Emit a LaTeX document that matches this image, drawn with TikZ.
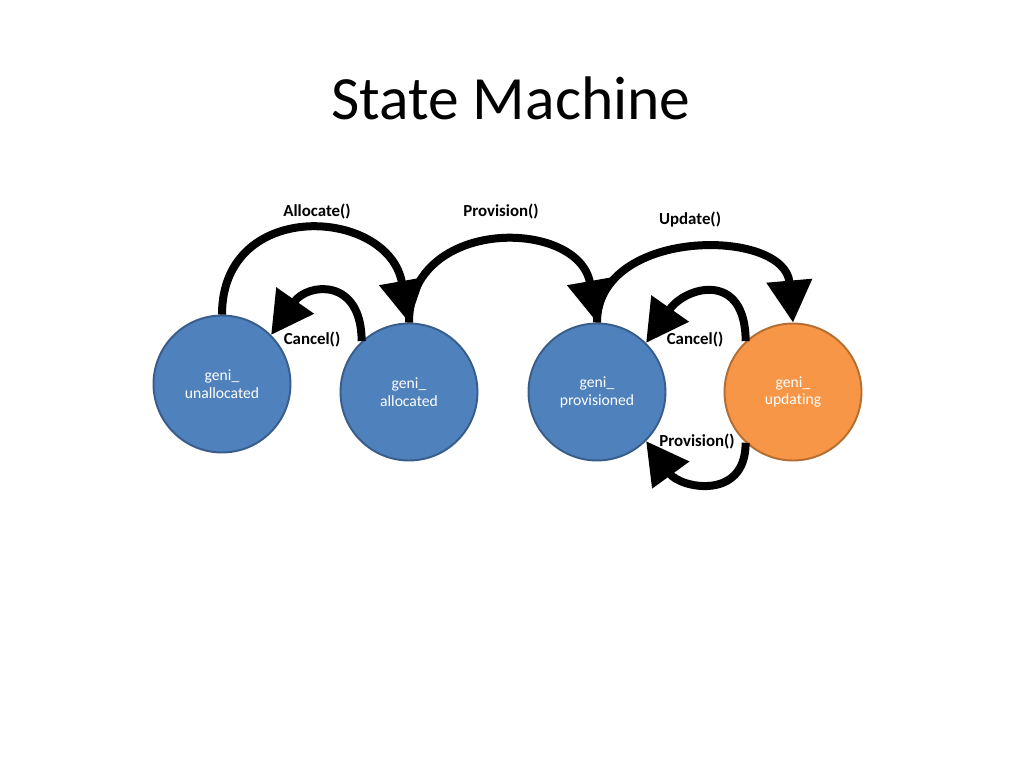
\documentclass[tikz,border=0pt]{standalone}
\usepackage{fontspec}
\setmainfont{Carlito}[Ligatures=NoCommon]
\usetikzlibrary{arrows.meta}
\definecolor{stateblue}{HTML}{4F81BD}
\definecolor{stateedge}{HTML}{385D8A}
\definecolor{updfill}{HTML}{F79646}
\definecolor{updedge}{HTML}{B66D31}
\begin{document}
\begin{tikzpicture}[x=0.02cm,y=0.02cm,
  state/.style={circle,draw=stateedge,line width=1.1pt,fill=stateblue,minimum size=2.74cm,inner sep=0pt,align=center,text=white,font=\fontsize{8.9}{10.2}\selectfont},
  trans/.style={line width=0.16cm,-{Triangle[length=0.84cm,width=0.88cm]}},
  lbl/.style={font=\fontsize{9.6}{11}\selectfont\bfseries}]
\fill[white] (0,0) rectangle (1024,768);
\useasboundingbox (0,0) rectangle (1024,768);
% title
\node (title) at (511,670) {\fontsize{35}{42}\selectfont State Machine};
% states
\node[state] (unalloc) at (222,384) {geni\_\\unallocated};
\node[state] (alloc) at (409,376) {geni\_\\allocated};
\node[state] (prov) at (597,376) {geni\_\\provisioned};
\node[state,draw=updedge,fill=updfill] (upd) at (793,376) {geni\_\\updating};
% transitions
\draw[trans] (unalloc.north) to[out=90,in=100,looseness=1.6] (alloc.north);
\draw[trans] (alloc.north) to[out=90,in=100,looseness=1.45] (prov.north);
\draw[trans] (prov.north) to[out=90,in=95,looseness=1.25] (upd.north);
\draw[trans] (alloc.133) to[out=90,in=55,looseness=1.8] (unalloc.45);
\draw[trans] (upd.133) to[out=90,in=55,looseness=1.8] (prov.45);
\draw[trans] (upd.227) to[out=270,in=306,looseness=1.5] (prov.315);
% labels
\node[lbl] (lalloc) at (317,556) {Allocate()};
\node[lbl] (lprov) at (501,556) {Provision()};
\node[lbl] (lupd) at (690,548) {Update()};
\node[lbl] (lcan1) at (312,428) {Cancel()};
\node[lbl] (lcan2) at (695,428) {Cancel()};
\node[lbl] (lprov2) at (697,326) {Provision()};
\end{tikzpicture}
\end{document}
